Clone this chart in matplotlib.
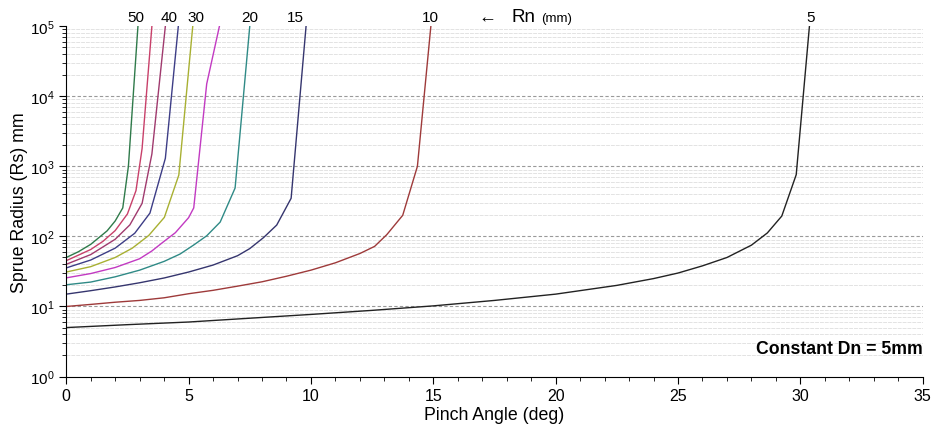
import matplotlib.pyplot as plt
import numpy as np

plt.rcParams['font.family'] = ['Liberation Sans', 'DejaVu Sans']

# Nozzle radius Rn (mm) for each curve
rn_values = [5, 10, 15, 20, 25, 30, 35, 40, 45, 50]

# pinch angle (deg) and sprue radius (mm)
angle_5 = [0, 2.5, 5, 7.5, 10, 12.5, 15, 17.5, 20, 22.5, 24, 25, 26, 27, 28, 28.65, 29.24, 29.83, 30.37]
rs_5 = [5, 5.5, 6.0, 6.8, 7.7, 8.8, 10.2, 12.2, 15, 20, 25, 30, 38, 50, 75, 112, 195, 760, 1e5]

angle_10 = [0, 1, 2, 3, 4, 5, 6, 7, 8, 9, 10, 11, 12, 12.6, 13.1, 13.75, 14.35, 14.9]
rs_10 = [10, 10.7, 11.5, 12.2, 13.3, 15.2, 17, 19.5, 22.5, 27, 33, 42, 57, 72, 106, 200, 1000, 1e5]

angle_15 = [0, 1, 2, 3, 4, 5, 6, 7, 7.5, 8.06, 8.6, 9.19, 9.8]
rs_15 = [15, 16.8, 19, 21.8, 25.5, 31, 39, 53, 67, 96, 145, 350, 1e5]

angle_20 = [0, 1, 2, 3, 4, 4.65, 5.2, 5.74, 6.29, 6.9, 7.5]
rs_20 = [20.4, 22.3, 26.5, 33, 44, 56, 75, 102, 160, 490, 1e5]

angle_25 = [0, 1, 2, 3, 3.5, 3.92, 4.46, 5.0, 5.21, 5.74, 6.26]
rs_25 = [25.6, 29.5, 36, 48, 62, 81, 113, 185, 255, 15000, 1e5]

angle_30 = [0, 1, 2, 2.7, 3.37, 4.01, 4.6, 5.17]
rs_30 = [31, 37, 50, 68, 103, 187, 750, 1e5]

angle_35 = [0, 1, 2, 2.8, 3.42, 4.05, 4.58]
rs_35 = [35.5, 46, 68, 111, 215, 1300, 1e5]

angle_40 = [0, 1, 2, 2.6, 3.1, 3.5, 4.05]
rs_40 = [40, 55, 91, 146, 296, 1500, 1e5]

angle_45 = [0, 1, 1.5, 2, 2.5, 2.85, 3.1, 3.5]
rs_45 = [45, 65, 85, 121, 209, 450, 1800, 1e5]

angle_50 = [0, 0.5, 1, 1.67, 2, 2.31, 2.54, 2.93]
rs_50 = [50, 60.5, 77, 120, 166, 255, 1000, 1e5]

angles = [angle_5, angle_10, angle_15, angle_20, angle_25,
          angle_30, angle_35, angle_40, angle_45, angle_50]
radii = [rs_5, rs_10, rs_15, rs_20, rs_25, rs_30, rs_35, rs_40, rs_45, rs_50]

colors = ['#222222', '#9e3a3a', '#35356e', '#2f8a86', '#c23ac2',
          '#a8b032', '#3d3d86', '#a03a6e', '#c8406a', '#2f7a4a']

# labels written above the top of some curves
top_labels = ['50', '40', '30', '20', '15', '10', '5']
top_label_x = [2.85, 4.2, 5.3, 7.5, 9.35, 14.9, 30.4]

fig = plt.figure(figsize=(9.33, 4.31), dpi=100)
ax = fig.add_axes([0.071, 0.124, 0.918, 0.813])

# grid: dashed decades, faint minor lines
for d in [10, 100, 1000, 10000]:
    ax.axhline(d, color='#9a9a9a', lw=0.8, ls=(0, (3, 2)), zorder=0)
for d in [1, 10, 100, 1000, 10000]:
    for m in range(2, 10):
        ax.axhline(d * m, color='#e3e3e3', lw=0.7, ls=(0, (4, 1)), zorder=0)

for x, y, c in zip(angles, radii, colors):
    ax.plot(x, y, color=c, lw=1.0)

ax.set_yscale('log')
ax.set_xlim(0, 35)
ax.set_ylim(1, 1e5)
ax.set_xticks(np.arange(0, 36, 5))
ax.set_xticks(np.arange(0, 36, 1), minor=True)

ax.spines['top'].set_visible(False)
ax.spines['right'].set_visible(False)
ax.tick_params(which='major', direction='out', length=5, labelsize=11.5)
ax.tick_params(axis='y', which='major', labelsize=11)
ax.tick_params(which='minor', direction='out', length=3)

ax.set_xlabel('Pinch Angle (deg)', fontsize=12.8, labelpad=2)
ax.set_ylabel('Sprue Radius (Rs) mm', fontsize=12.8, labelpad=1)

for t, x in zip(top_labels, top_label_x):
    ax.text(x, 1.36e5, t, ha='center', va='center', fontsize=11, clip_on=False)

ax.text(17.2, 1.36e5, '\u2190', ha='center', va='center', fontsize=13, clip_on=False)
ax.text(18.2, 1.36e5, 'Rn', ha='left', va='center', fontsize=13.5, clip_on=False)
ax.text(19.4, 1.32e5, '(mm)', ha='left', va='center', fontsize=9.5, clip_on=False)

ax.text(35, 2.5, 'Constant Dn = 5mm', ha='right', va='center',
        fontsize=12.7, fontweight='bold')

fig.savefig('out.png', dpi=100)
